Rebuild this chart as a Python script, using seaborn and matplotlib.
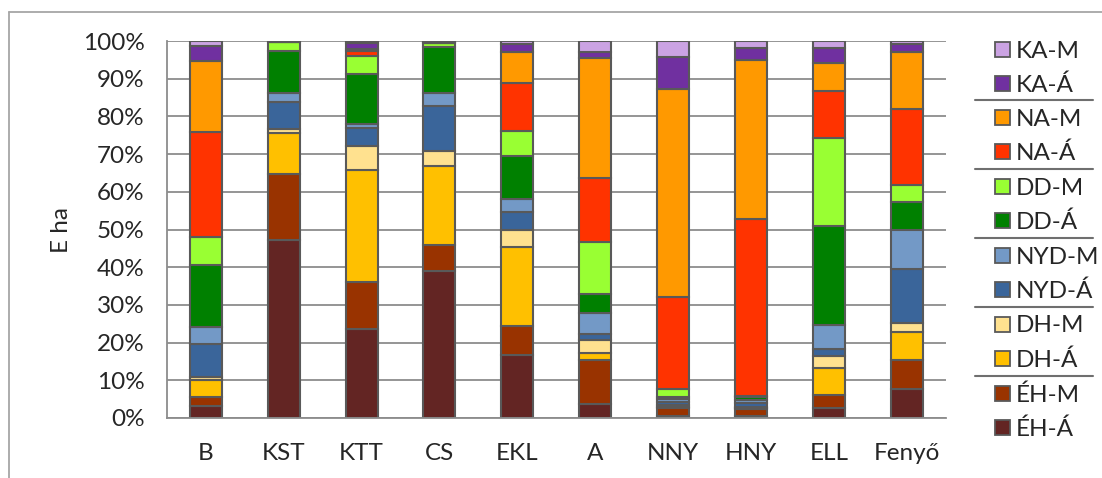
import numpy as np
import pandas as pd
import matplotlib
matplotlib.use("Agg")
import matplotlib.pyplot as plt
import seaborn as sns
from matplotlib.patches import Rectangle
from matplotlib.lines import Line2D
from matplotlib.ticker import PercentFormatter

categories = ["B", "KST", "KTT", "CS", "EKL", "A", "NNY", "HNY", "ELL", "Fenyő"]
series = ["KA-M", "KA-Á", "NA-M", "NA-Á", "DD-M", "DD-Á",
          "NYD-M", "NYD-Á", "DH-M", "DH-Á", "ÉH-M", "ÉH-Á"]
colors = ["#CBA3E3", "#7030A0", "#FF9900", "#FF3300", "#99FF33", "#008000",
          "#7399C6", "#3A659A", "#FFE18F", "#FFC000", "#993300", "#632523"]

# percent shares per category (bottom to top stacking: ÉH-Á ... KA-M)
eh_a = [3.2, 47.3, 23.5, 39.0, 16.6, 3.6, 0.5, 0.4, 2.7, 7.8]
eh_m = [2.4, 17.4, 12.6, 6.8, 7.7, 11.7, 2.2, 1.9, 3.3, 7.5]
dh_a = [4.6, 10.8, 29.8, 21.1, 21.1, 2.0, 0.2, 0.3, 7.3, 7.5]
dh_m = [0.7, 1.2, 6.2, 4.0, 4.4, 3.5, 0.6, 0.3, 3.1, 2.5]
nyd_a = [8.8, 7.0, 4.9, 11.8, 4.9, 1.4, 0.8, 1.2, 1.8, 14.3]
nyd_m = [4.5, 2.6, 1.1, 3.4, 3.3, 5.7, 0.8, 0.6, 6.4, 10.4]
dd_a = [16.3, 11.0, 13.1, 12.2, 11.6, 5.1, 0.4, 0.8, 26.3, 7.2]
dd_m = [7.6, 2.5, 4.8, 1.3, 6.6, 13.7, 2.3, 0.3, 23.3, 4.6]
na_a = [27.8, 0.0, 1.4, 0.0, 12.6, 17.0, 24.3, 47.0, 12.5, 20.1]
na_m = [18.9, 0.0, 0.6, 0.0, 8.3, 31.7, 55.3, 42.2, 7.4, 15.3]
ka_a = [4.0, 0.1, 1.6, 0.2, 2.0, 1.6, 8.4, 3.1, 4.0, 2.0]
ka_m = [1.2, 0.1, 0.4, 0.2, 0.9, 3.0, 4.2, 1.9, 1.9, 0.8]

values = {"KA-M": ka_m, "KA-Á": ka_a, "NA-M": na_m, "NA-Á": na_a,
          "DD-M": dd_m, "DD-Á": dd_a, "NYD-M": nyd_m, "NYD-Á": nyd_a,
          "DH-M": dh_m, "DH-Á": dh_a, "ÉH-M": eh_m, "ÉH-Á": eh_a}

rows = []
for s in series:
    for i, c in enumerate(categories):
        rows.append({"pos": i, "series": s, "val": values[s][i]})
df = pd.DataFrame(rows)

sns.set_style("white")
FONT = ["Lato", "DejaVu Sans"]
plt.rcParams["font.family"] = FONT
FS = 17.5
GRID = "#8C8C8C"
EDGE = "#595959"
PX = 72 / 100.0  # points per pixel

fig = plt.figure(figsize=(11.02, 4.78), dpi=100)
W, H = 1102, 478
ax = fig.add_axes([166.7 / W, 1 - 418 / H, (946 - 166.7) / W, (418 - 41) / H])

sns.histplot(data=df, x="pos", weights="val", hue="series",
             hue_order=series, palette=colors, multiple="stack",
             discrete=True, shrink=0.41, alpha=1, edgecolor=EDGE,
             linewidth=1.5, legend=False, ax=ax)

ax.set_xlim(-0.5, 9.5)
ax.set_ylim(0, 100)
ax.set_axisbelow(True)
ax.set_xticks(range(len(categories)))
ax.set_xticklabels(categories, fontsize=FS)
ax.set_xticks(np.arange(-0.5, len(categories)), minor=True)
ax.tick_params(axis="x", which="major", length=0, pad=18)
ax.tick_params(axis="x", which="minor", length=8 * PX, width=1.3, color=GRID)
ax.set_yticks(range(0, 101, 10))
ax.yaxis.set_major_formatter(PercentFormatter(100, decimals=0))
ax.tick_params(axis="y", which="major", length=8 * PX, width=1.3, color=GRID,
               labelsize=FS, pad=10)
ax.yaxis.grid(True, color=GRID, linewidth=1.3)
ax.xaxis.grid(False)
ax.set_xlabel("")
ax.set_ylabel("")
for side in ("top", "right"):
    ax.spines[side].set_visible(False)
for side in ("left", "bottom"):
    ax.spines[side].set_color(GRID)
    ax.spines[side].set_linewidth(1.3)

fig.text(62 / W, 1 - 230 / H, "E ha", rotation=90, ha="center", va="center",
         fontsize=FS)

# chart frame (partially visible)
fig.add_artist(Line2D([9 / W, 9 / W], [1 - 11.7 / H, 0], color="#A6A6A6",
                      linewidth=1.3, transform=fig.transFigure))
fig.add_artist(Line2D([9 / W, 1], [1 - 11.7 / H, 1 - 11.7 / H], color="#A6A6A6",
                      linewidth=1.3, transform=fig.transFigure))

# legend with group separators
ys = [49.3, 83.3, 117, 151.7, 186, 220.7, 255, 289.3, 324, 358.3, 393.3, 427.3]
for name, col, yc in zip(series, colors, ys):
    fig.add_artist(Rectangle((995 / W, 1 - (yc + 7.5) / H), 15 / W, 15 / H,
                             facecolor=col, edgecolor=EDGE, linewidth=1.3,
                             transform=fig.transFigure))
    fig.text(1016 / W, 1 - yc / H, name, ha="left", va="center_baseline",
             fontsize=FS)
for k in range(1, 6):
    ysep = (ys[2 * k - 1] + ys[2 * k]) / 2
    fig.add_artist(Line2D([975 / W, 1093 / W], [1 - ysep / H, 1 - ysep / H],
                          color="#6F6F6F", linewidth=1.5,
                          transform=fig.transFigure))

fig.savefig("out.png", dpi=100)
